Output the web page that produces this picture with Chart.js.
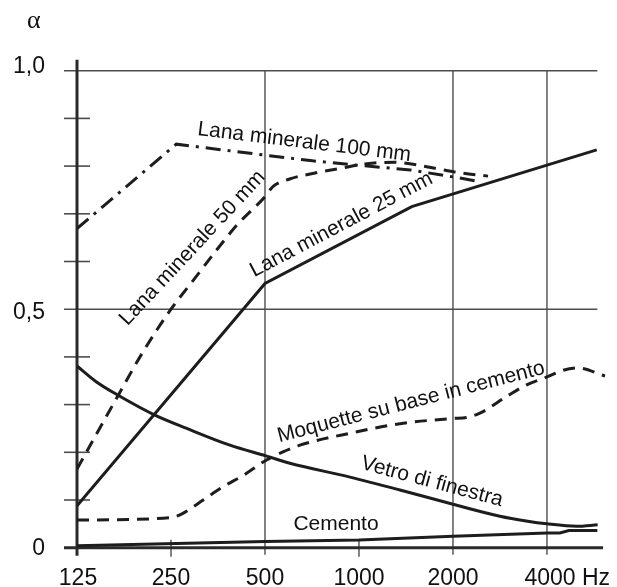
<!DOCTYPE html>
<html><head><meta charset="utf-8">
<script src="https://cdn.jsdelivr.net/npm/chart.js@4"></script>
<style>html,body{margin:0;padding:0;background:#fff;}canvas{display:block;}</style>
</head><body>
<canvas id="c" width="617" height="587"></canvas>
<script>
// ---- tick labels ----
const freqTicks = [125, 250, 500, 1000, 2000, 4000];
const freqTickLabels = ["125", "250", "500", "1000", "2000", "4000"];
const freqUnit = "Hz";
const alphaTicks = [0, 0.5, 1.0];
const alphaTickLabels = ["0", "0,5", "1,0"];
const alphaMinorTicks = [0.1, 0.2, 0.3, 0.4, 0.6, 0.7, 0.8, 0.9];
const alphaTitle = "α";

// ---- series (frequency in Hz, absorption coefficient α) ----
const lana100Freq  = [125, 260, 500, 710, 990, 1460, 2060, 2400];
const lana100Alpha = [0.669, 0.846, 0.823, 0.811, 0.802, 0.792, 0.776, 0.768];

const lana50Freq  = [125, 163, 204, 250, 295, 350, 406, 500, 530, 600, 730, 870, 1060, 1300, 1700, 2100, 2590];
const lana50Alpha = [0.165, 0.300, 0.412, 0.500, 0.561, 0.624, 0.676, 0.736, 0.757, 0.773, 0.786, 0.795, 0.805, 0.808, 0.797, 0.786, 0.779];

const lana25Freq  = [125, 500, 1476, 5773];
const lana25Alpha = [0.088, 0.554, 0.715, 0.834];

const moquetteFreq  = [125, 250, 273, 317, 367, 427, 506, 571, 647, 936, 1353, 2000, 2210, 2440, 2970, 3430, 4000, 4500, 5000, 6137];
const moquetteAlpha = [0.058, 0.063, 0.072, 0.100, 0.128, 0.152, 0.184, 0.201, 0.215, 0.240, 0.260, 0.271, 0.273, 0.282, 0.317, 0.341, 0.358, 0.372, 0.377, 0.360];

const vetroFreq  = [125, 144, 172, 222, 281, 386, 506, 601, 936, 1353, 2000, 2828, 3430, 4000, 4980, 5813];
const vetroAlpha = [0.381, 0.348, 0.317, 0.278, 0.250, 0.215, 0.192, 0.177, 0.148, 0.121, 0.091, 0.066, 0.056, 0.050, 0.045, 0.048];

const cementoFreq  = [125, 500, 1000, 2000, 4000, 4400, 4700, 5800];
const cementoAlpha = [0.004, 0.013, 0.016, 0.024, 0.031, 0.031, 0.036, 0.036];

// ---- curve labels ----
const curveLabels = ["Lana minerale 100 mm", "Lana minerale 50 mm", "Lana minerale 25 mm",
                     "Moquette su base in cemento", "Vetro di finestra", "Cemento"];

function pts(f, a) { return f.map((v, i) => ({ x: v, y: a[i] })); }

const INK = '#1d1d1d';
function ds(label, f, a, dash, smooth) {
  return {
    label, data: pts(f, a), borderColor: INK, borderWidth: 3, borderDash: dash,
    pointRadius: 0, fill: false, tension: smooth ? 0.35 : 0,
    cubicInterpolationMode: smooth ? 'monotone' : 'default', borderCapStyle: 'butt'
  };
}

const labelPlacement = {
  freq:  [668, 293, 879, 1468, 1713, 844],
  alpha: [0.850, 0.628, 0.677, 0.305, 0.138, 0.050],
  angle: [7, -47, -27.8, -14.5, 15, 0]
};
const fullGridFreqs = [500, 2000, 4000];
const shortTickFreqs = [250, 1000];

function seg(ctx, x1, y1, x2, y2) { ctx.beginPath(); ctx.moveTo(x1, y1); ctx.lineTo(x2, y2); ctx.stroke(); }

const framePlugin = {
  id: 'frame',
  beforeDatasetsDraw(chart) {
    const { ctx, scales: { x, y } } = chart;
    const x0 = x.getPixelForValue(freqTicks[0]);
    const y0 = y.getPixelForValue(0), y1 = y.getPixelForValue(1);
    ctx.save();
    ctx.lineCap = 'butt';
    ctx.strokeStyle = '#4d4d4d'; ctx.lineWidth = 1.6;
    alphaTicks.forEach(v => { if (v === 0) return; const py = y.getPixelForValue(v); seg(ctx, x0 - 13, py, x.getPixelForValue(5800), py); });
    alphaMinorTicks.forEach(v => { const py = y.getPixelForValue(v); seg(ctx, x0 - 13, py, x0 + 13, py); });
    ctx.lineWidth = 1.4;
    fullGridFreqs.forEach(f => { const px = x.getPixelForValue(f); seg(ctx, px, y1, px, y0 + 7); });
    shortTickFreqs.forEach(f => { const px = x.getPixelForValue(f); seg(ctx, px, y0 - 8, px, y0 + 9); });
    ctx.strokeStyle = '#2a2a2a'; ctx.lineWidth = 3;
    seg(ctx, x0, y1 - 11, x0, y0 + 8);
    seg(ctx, x0 - 13, y0, x.getPixelForValue(6050), y0);
    ctx.restore();
  },
  afterDatasetsDraw(chart) {
    const { ctx, scales: { x, y } } = chart;
    const x0 = x.getPixelForValue(freqTicks[0]);
    const y0 = y.getPixelForValue(0);
    ctx.save();
    ctx.fillStyle = '#111';
    // y tick labels
    ctx.font = '23px "Liberation Sans", Arial, sans-serif';
    ctx.textAlign = 'right'; ctx.textBaseline = 'alphabetic';
    const yDy = [7.5, 10, 2.5];
    alphaTicks.forEach((v, i) => ctx.fillText(alphaTickLabels[i], x0 - 32, y.getPixelForValue(v) + yDy[i]));
    // x tick labels
    freqTicks.forEach((f, i) => {
      const px = x.getPixelForValue(f);
      if (i === freqTicks.length - 1) {
        const w = ctx.measureText(freqTickLabels[i]).width;
        ctx.textAlign = 'left';
        ctx.fillText(freqTickLabels[i] + ' ' + freqUnit, px - w / 2 + 3, y0 + 37.5);
      } else {
        ctx.textAlign = 'center';
        ctx.fillText(freqTickLabels[i], px + (i === 0 ? 1 : 0), y0 + 37.5);
      }
    });
    // axis title
    ctx.font = '26px "Liberation Serif", "DejaVu Serif", serif';
    ctx.textAlign = 'left';
    ctx.fillText(alphaTitle, 27, 28);
    // curve labels
    ctx.font = '21px "Liberation Sans", Arial, sans-serif';
    ctx.textAlign = 'center'; ctx.textBaseline = 'middle';
    curveLabels.forEach((t, i) => {
      const px = x.getPixelForValue(labelPlacement.freq[i]);
      const py = y.getPixelForValue(labelPlacement.alpha[i]);
      ctx.save();
      ctx.translate(px, py);
      ctx.rotate(labelPlacement.angle[i] * Math.PI / 180);
      ctx.fillText(t, 0, 0);
      ctx.restore();
    });
    ctx.restore();
  }
};

new Chart(document.getElementById('c'), {
  type: 'line',
  data: {
    datasets: [
      ds(curveLabels[0], lana100Freq, lana100Alpha, [15, 7, 3, 7], false),
      ds(curveLabels[1], lana50Freq, lana50Alpha, [12, 8], true),
      ds(curveLabels[2], lana25Freq, lana25Alpha, [], false),
      ds(curveLabels[3], moquetteFreq, moquetteAlpha, [12, 8], true),
      ds(curveLabels[4], vetroFreq, vetroAlpha, [], true),
      ds(curveLabels[5], cementoFreq, cementoAlpha, [], false)
    ]
  },
  options: {
    responsive: false,
    devicePixelRatio: 1,
    animation: false,
    layout: { padding: { left: 77, right: 6.3, top: 70.7, bottom: 39.3 } },
    scales: {
      x: { type: 'logarithmic', min: 125, max: 6400, display: false, bounds: 'data' },
      y: { type: 'linear', min: 0, max: 1, display: false }
    },
    plugins: { legend: { display: false }, tooltip: { enabled: false } }
  },
  plugins: [framePlugin]
});
</script>
</body></html>
